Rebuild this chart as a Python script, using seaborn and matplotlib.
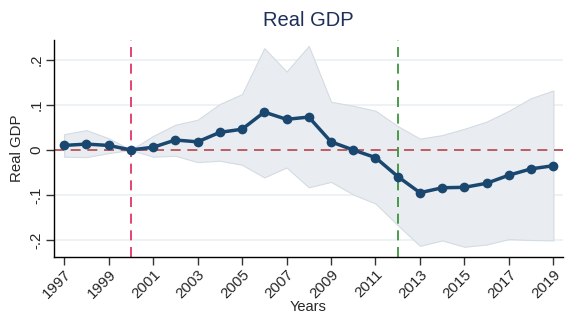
import numpy as np
import pandas as pd
import matplotlib
matplotlib.use("Agg")
import matplotlib.pyplot as plt
import seaborn as sns

years = list(range(1997, 2020))
coef = [0.010, 0.013, 0.010, 0.000, 0.006, 0.022, 0.018, 0.039, 0.046, 0.084,
        0.068, 0.073, 0.018, 0.000, -0.017, -0.059, -0.095, -0.084, -0.083,
        -0.074, -0.056, -0.042, -0.035]
upper = [0.035, 0.044, 0.026, 0.000, 0.031, 0.056, 0.067, 0.102, 0.124, 0.226,
         0.174, 0.231, 0.107, 0.098, 0.087, 0.053, 0.025, 0.033, 0.047,
         0.063, 0.087, 0.115, 0.132]
lower = [-0.015, -0.016, -0.007, 0.000, -0.015, -0.013, -0.027, -0.024, -0.033,
         -0.061, -0.039, -0.083, -0.071, -0.099, -0.119, -0.167, -0.213, -0.201,
         -0.215, -0.210, -0.198, -0.200, -0.201]
xticks = list(range(1997, 2020, 2))
yticks = [-0.2, -0.1, 0.0, 0.1, 0.2]
ytick_labels = ["-.2", "-.1", "0", ".1", ".2"]
event_years = [2000, 2012]

df = pd.DataFrame({"Years": years, "coef": coef, "upper": upper, "lower": lower})

sns.set_style("white")
plt.rcParams['font.family'] = ['Arial', 'Liberation Sans', 'DejaVu Sans']

fig = plt.figure(figsize=(5.76, 3.13), dpi=100)
ax = fig.add_axes([0.094, 0.18, 0.883, 0.692])

for yv in yticks:
    ax.axhline(yv, color="#eaf0f3", lw=1.2, zorder=0)

ax.fill_between(df["Years"], df["lower"], df["upper"], facecolor="#e9edf1",
                edgecolor="#d3dbe3", lw=0.8, zorder=1)
ax.axhline(0, color="#b5464b", lw=1.2, ls=(0, (6, 4)), zorder=2)
ax.axvline(event_years[0], color="#e0245a", lw=1.2, ls=(0, (6, 4)), zorder=2)
ax.axvline(event_years[1], color="#2e8b2e", lw=1.2, ls=(0, (6, 4)), zorder=2)

sns.lineplot(data=df, x="Years", y="coef", ax=ax, color="#1a476f", lw=2.5,
             marker="o", markersize=7, markeredgewidth=0, zorder=3)

ax.set_xlim(1996.55, 2019.42)
ax.set_ylim(-0.237, 0.244)
ax.set_xticks(xticks)
ax.set_xticklabels([str(x) for x in xticks], rotation=45, ha="right",
                   rotation_mode="anchor", fontsize=10.8)
ax.set_yticks(yticks)
ax.set_yticklabels(ytick_labels, rotation=90, va="center", fontsize=10.8)
ax.tick_params(axis="both", which="both", direction="out", length=5.5,
               width=1, color="#333333", left=True, bottom=True, pad=2)
ax.set_xlabel("Years", fontsize=10.5, labelpad=-1)
ax.set_ylabel("Real GDP", fontsize=10.8, labelpad=4)
ax.set_title("Real GDP", fontsize=14.5, color="#1e2f5a", pad=10)

for s in ["top", "right"]:
    ax.spines[s].set_visible(False)
for s in ["left", "bottom"]:
    ax.spines[s].set_color("black")
    ax.spines[s].set_linewidth(1)

fig.savefig("out.png", dpi=100)
